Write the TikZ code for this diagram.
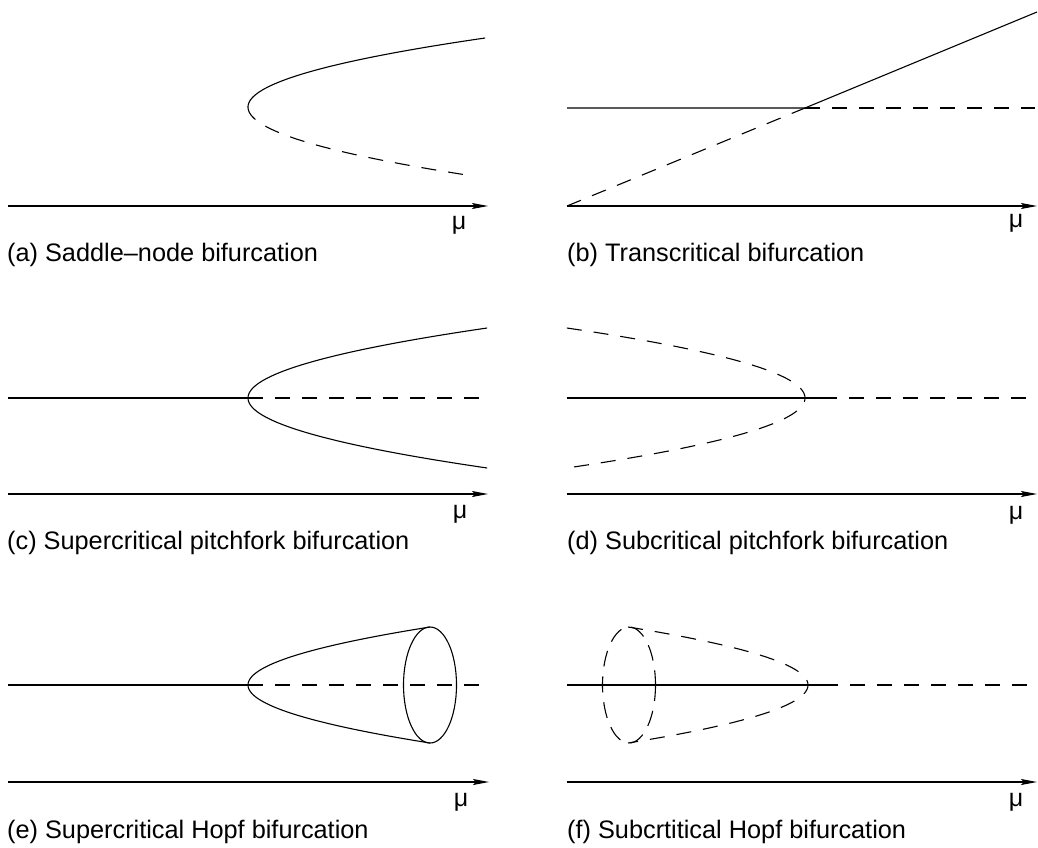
\documentclass[tikz,border=0pt]{standalone}
\usepackage{fontspec}
\setmainfont{Liberation Sans}
\usetikzlibrary{arrows.meta}
\begin{document}
\begin{tikzpicture}[x=1pt,y=-1pt,
  curve/.style={line width=1.1pt,black},
  dsh/.style={curve,dash pattern=on 15pt off 12pt},
  axis/.style={line width=1.1pt,-{Stealth[length=16pt,width=6pt,inset=3pt]}},
  captext/.style={anchor=base west,font=\fontsize{25.3}{29}\selectfont,inner sep=0pt},
  mu/.style={font=\fontsize{25}{28}\selectfont,inner sep=0pt}]
\useasboundingbox (0,0) rectangle (1038,848);
% ---------- (a)
\coordinate (a0) at (8,206); \coordinate (a1) at (488,206);
\draw[axis] (a0) -- (a1);
\node[mu] (amu) at (459,225) {μ};
\coordinate (av) at (248,107);
\draw[curve] plot[domain=0:-69,samples=60] ({248+0.0498*\x*\x},{107+\x});
\draw[dsh] plot[domain=0:69,samples=60] ({248+0.0473*\x*\x},{107+\x});
\node[captext] (acap) at (7,261) {(a) Saddle–node bifurcation};
% ---------- (b)
\coordinate (b0) at (567,206); \coordinate (b1) at (1037,206);
\draw[axis] (b0) -- (b1);
\node[mu] (bmu) at (1016,223) {μ};
\coordinate (bl) at (567,108); \coordinate (bx) at (805,108); \coordinate (br) at (1035,108);
\coordinate (bt) at (1037,12);
\draw[curve] (bl) -- (bx) -- (bt);
\draw[dsh] (bx) -- (br);
\draw[dsh] (b0) -- (bx);
\node[captext] (bcap) at (567,261) {(b) Transcritical bifurcation};
% ---------- (c)
\coordinate (c0) at (8,494); \coordinate (c1) at (488,494);
\draw[axis] (c0) -- (c1);
\node[mu] (cmu) at (460,514) {μ};
\coordinate (cl) at (8,398); \coordinate (cv) at (248,398); \coordinate (cr) at (480,398);
\draw[curve] (cl) -- (cv);
\draw[dsh] (cv) -- (cr);
\draw[curve] plot[domain=-70:70,samples=100] ({248+0.0488*\x*\x},{398+\x});
\node[captext] (ccap) at (7,549) {(c) Supercritical pitchfork bifurcation};
% ---------- (d)
\coordinate (d0) at (567,494); \coordinate (d1) at (1037,494);
\draw[axis] (d0) -- (d1);
\node[mu] (dmu) at (1016,515) {μ};
\coordinate (dl) at (567,398); \coordinate (dv) at (822,398); \coordinate (dr) at (1035,398);
\draw[curve] (dl) -- (dv);
\draw[dsh] (dv) -- (dr);
\draw[dsh] plot[domain=-70:70,samples=100] ({805-0.0486*\x*\x},{398+\x});
\node[captext] (dcap) at (567,549) {(d) Subcritical pitchfork bifurcation};
% ---------- (e)
\coordinate (e0) at (8,782); \coordinate (e1) at (489,782);
\draw[axis] (e0) -- (e1);
\node[mu] (emu) at (461,802) {μ};
\coordinate (el) at (8,685); \coordinate (ev) at (248,685); \coordinate (er) at (480,685);
\draw[curve] (el) -- (ev);
\draw[dsh] (ev) -- (er);
\draw[curve] plot[domain=-58:58,samples=100] ({248+0.0541*\x*\x},{685+\x});
\draw[curve] (430,685) ellipse [x radius=26.5, y radius=58];
\node[captext] (ecap) at (7,838) {(e) Supercritical Hopf bifurcation};
% ---------- (f)
\coordinate (f0) at (567,782); \coordinate (f1) at (1037,782);
\draw[axis] (f0) -- (f1);
\node[mu] (fmu) at (1016,802) {μ};
\coordinate (fl) at (567,685); \coordinate (fv) at (823,685); \coordinate (fr) at (1035,685);
\draw[curve] (fl) -- (fv);
\draw[dsh] (fv) -- (fr);
\draw[dsh] plot[domain=-58:58,samples=100] ({808-0.0535*\x*\x},{685+\x});
\draw[curve,dash pattern=on 16pt off 10pt] (629,685) ellipse [x radius=26.5, y radius=58];
\node[captext] (fcap) at (567,838) {(f) Subcrtitical Hopf bifurcation};
\end{tikzpicture}
\end{document}
